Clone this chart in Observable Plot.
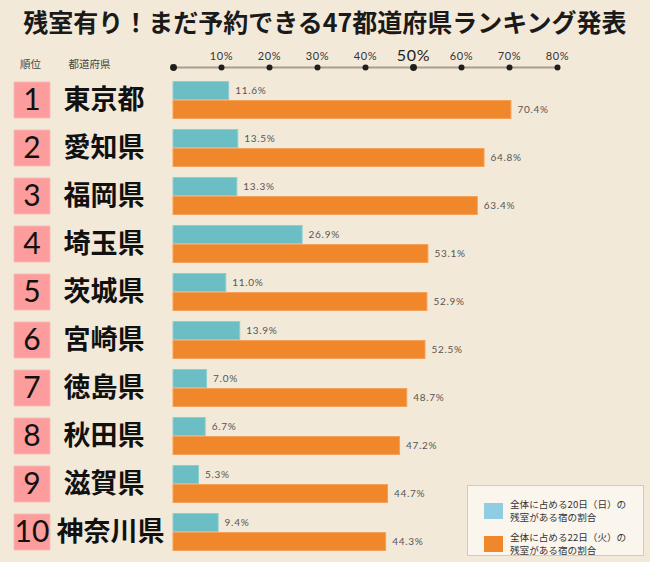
<!DOCTYPE html>
<html>
<head>
<meta charset="utf-8">
<script src="https://cdn.jsdelivr.net/npm/d3@7"></script>
<script src="https://cdn.jsdelivr.net/npm/@observablehq/plot@0.6"></script>
<style>
  html, body { margin: 0; padding: 0; background: #f3e9d8; }
  #wrap { position: relative; width: 650px; height: 562px; overflow: hidden; background: #f3e9d8; }
  #title { height: 40px; line-height: 42px; text-align: center; font-family: "Noto Sans CJK JP", sans-serif; font-weight: 700; font-size: 25px; color: #1a1a1a; letter-spacing: 0px; }
  svg { display: block; overflow: visible; }
  #legend { position: absolute; left: 467px; top: 485px; width: 177px; height: 71px; border: 1px solid #f4c48f; background: #fbf6ed; box-sizing: border-box; font-family: "Noto Sans CJK JP", sans-serif; font-size: 9.6px; color: #333; }
  .item { position: absolute; left: 16px; display: flex; align-items: center; }
  .sw { width: 19px; height: 16px; margin-right: 7px; flex: none; }
  .lbl { line-height: 13px; white-space: nowrap; }
</style>
</head>
<body>
<div id="wrap">
  <div id="title">残室有り！まだ予約できる47都道府県ランキング発表</div>
  <div id="header"></div>
  <div id="main"></div>
  <div id="legend"></div>
</div>
<script>
const prefectures = ["東京都","愛知県","福岡県","埼玉県","茨城県","宮崎県","徳島県","秋田県","滋賀県","神奈川県"];
const ranks = [1,2,3,4,5,6,7,8,9,10];
const share20 = [11.6,13.5,13.3,26.9,11.0,13.9,7.0,6.7,5.3,9.4];
const share22 = [70.4,64.8,63.4,53.1,52.9,52.5,48.7,47.2,44.7,44.3];
const tickValues = [0,10,20,30,40,50,60,70,80];
const tickLabels = ["","10%","20%","30%","40%","50%","60%","70%","80%"];
const seriesLabels = ["全体に占める20日（日）の\n残室がある宿の割合","全体に占める22日（火）の\n残室がある宿の割合"];

const teal = "#6abec4", orange = "#f0872a", pink = "#fc9c9c";
const rows = prefectures.map((name, i) => ({name, rank: ranks[i], v20: share20[i], v22: share22[i]}));
const ticks = tickValues.map((v, i) => ({v, label: tickLabels[i], big: v === 0 || v === 50}));

const xScale = {domain: [0, 80], axis: null};
const ml = 173, mr = 93;

const header = Plot.plot({
  width: 650, height: 36,
  marginLeft: ml, marginRight: mr, marginTop: 0, marginBottom: 9,
  x: xScale,
  y: {domain: [0, 1], axis: null},
  style: {background: "transparent", overflow: "visible"},
  marks: [
    Plot.ruleY([0], {x1: 0, x2: 80, stroke: "#a89d8f", strokeWidth: 2}),
    Plot.dot(ticks, {x: "v", y: 0, r: d => d.big ? 5.3 : 4, fill: "#1e1e1e"}),
    Plot.text(ticks.filter(d => !d.big), {x: "v", y: 0, text: "label", dy: -8, lineAnchor: "bottom", fontSize: 11, fill: "#333", fontFamily: "Lato, sans-serif"}),
    Plot.text(ticks.filter(d => d.v === 50), {x: "v", y: 0, text: "label", dy: -7, lineAnchor: "bottom", fontSize: 16, fill: "#222", fontFamily: "Lato, sans-serif"}),
    Plot.text(["順位"], {frameAnchor: "bottom-left", dx: 30 - ml, textAnchor: "middle", text: d => d, fontSize: 10.5, fill: "#444", fontFamily: "Noto Sans CJK JP, sans-serif"}),
    Plot.text(["都道府県"], {frameAnchor: "bottom-left", dx: 68 - ml, textAnchor: "start", text: d => d, fontSize: 10.5, fill: "#444", fontFamily: "Noto Sans CJK JP, sans-serif"})
  ]
});
document.getElementById("header").appendChild(header);

const main = Plot.plot({
  width: 650, height: 486,
  marginLeft: ml, marginRight: mr, marginTop: 1, marginBottom: 9,
  x: xScale,
  y: {domain: ["20", "22"], padding: 0, axis: null},
  fy: {domain: prefectures, paddingInner: 0.197, paddingOuter: 0, axis: null},
  style: {background: "transparent", overflow: "visible"},
  marks: [
    Plot.dot(rows, {fy: "name", frameAnchor: "left", dx: 31.5 - ml, symbol: "square", r: 20.2, fill: pink, stroke: "#f9b3ad", strokeWidth: 1}),
    Plot.text(rows, {fy: "name", frameAnchor: "left", dx: 31.5 - ml, textAnchor: "middle", text: d => String(d.rank), fontSize: 30, fill: "#111", fontFamily: "Lato, sans-serif"}),
    Plot.text(rows.filter(d => d.name.length <= 3), {fy: "name", frameAnchor: "left", dx: 63 - ml, textAnchor: "start", text: "name", fontSize: 27, fontWeight: "bold", fill: "#111", fontFamily: "Noto Sans CJK JP, sans-serif"}),
    Plot.text(rows.filter(d => d.name.length > 3), {fy: "name", frameAnchor: "left", dx: 56 - ml, textAnchor: "start", text: "name", fontSize: 27, fontWeight: "bold", fill: "#111", fontFamily: "Noto Sans CJK JP, sans-serif"}),
    Plot.barX(rows, {fy: "name", y: () => "20", x: "v20", fill: teal, stroke: "#8dcfd1", strokeWidth: 1, insetTop: 0.5, insetBottom: 0.5}),
    Plot.barX(rows, {fy: "name", y: () => "22", x: "v22", fill: orange, stroke: "#f4a15a", strokeWidth: 1, insetTop: 0.5, insetBottom: 0.5}),
    Plot.text(rows, {fy: "name", y: () => "20", x: "v20", text: d => d.v20.toFixed(1) + "%", dx: 6, textAnchor: "start", fontSize: 10, fill: "#555", fontFamily: "Lato, sans-serif"}),
    Plot.text(rows, {fy: "name", y: () => "22", x: "v22", text: d => d.v22.toFixed(1) + "%", dx: 6, textAnchor: "start", fontSize: 10, fill: "#555", fontFamily: "Lato, sans-serif"})
  ]
});
document.getElementById("main").appendChild(main);

[header, main].forEach(svg => {
  d3.select(svg).selectAll("text")
    .filter(function() { return /%$/.test(this.textContent); })
    .attr("letter-spacing", "0.7");
});

const legend = document.getElementById("legend");
const swColors = ["#90cde0", orange];
seriesLabels.forEach((lab, i) => {
  const it = document.createElement("div");
  it.className = "item";
  it.style.top = (i === 0 ? 12 : 45) + "px";
  const sw = document.createElement("div");
  sw.className = "sw"; sw.style.background = swColors[i];
  const t = document.createElement("div");
  t.className = "lbl";
  t.innerHTML = lab.split("\n").join("<br>");
  it.appendChild(sw); it.appendChild(t);
  legend.appendChild(it);
});
</script>
</body>
</html>
